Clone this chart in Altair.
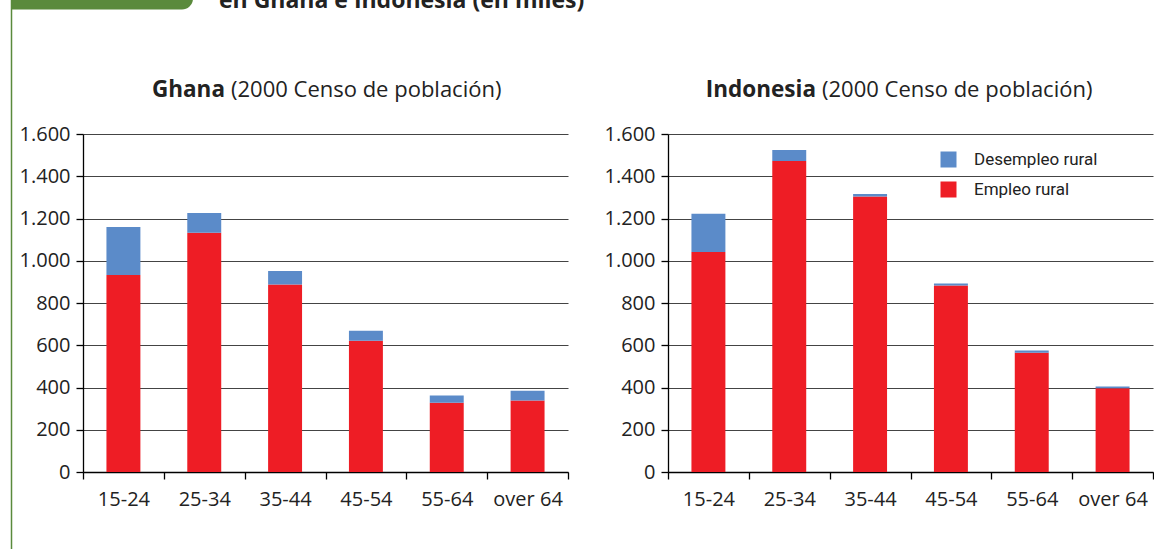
import altair as alt
import pandas as pd

# ---------------- data ----------------
categorias = ["15-24", "25-34", "35-44", "45-54", "55-64", "over 64"]
ghana_empleo = [933, 1132, 887, 621, 328, 338]
ghana_desempleo = [227, 94, 65, 48, 34, 47]
indonesia_empleo = [1042, 1472, 1304, 883, 564, 396]
indonesia_desempleo = [180, 52, 12, 9, 11, 9]
series = ["Desempleo rural", "Empleo rural"]
colores = ["#5B8BC9", "#EE1D25"]
y_valores = [0, 200, 400, 600, 800, 1000, 1200, 1400, 1600]

FONT = "Open Sans"
GREEN = "#5A8A3C"
TXT = "#222222"
W, H = 485, 338


def tabla(empleo, desempleo):
    filas = []
    for c, e, d in zip(categorias, empleo, desempleo):
        filas.append({"edad": c, "serie": "Empleo rural", "valor": e, "orden": 0})
        filas.append({"edad": c, "serie": "Desempleo rural", "valor": d, "orden": 1})
    return pd.DataFrame(filas)


one = alt.Data(values=[{}])


def panel(df, nombre, bold_right, norm_left, legend):
    bars = alt.Chart(df).mark_bar(width=alt.RelativeBandSize(0.42)).encode(
        x=alt.X(
            "edad:N",
            sort=categorias,
            scale=alt.Scale(paddingInner=0, paddingOuter=0),
            axis=alt.Axis(
                title=None, labelAngle=0, tickBand="extent", tickSize=7,
                labelPadding=10, grid=False, domainColor="#000", tickColor="#000",
            ),
        ),
        y=alt.Y(
            "valor:Q",
            stack="zero",
            scale=alt.Scale(domain=[0, 1600], nice=False),
            axis=alt.Axis(
                title=None, values=y_valores, grid=True, tickSize=7, labelPadding=6,
                labelExpr="replace(format(datum.value, ','), ',', '.')",
                domainColor="#000", tickColor="#000",
            ),
        ),
        color=alt.Color(
            "serie:N",
            scale=alt.Scale(domain=series, range=colores),
            legend=legend,
        ),
        order=alt.Order("orden:Q", sort="ascending"),
    )
    t_bold = alt.Chart(one).mark_text(
        text=nombre, font=FONT, fontSize=22.5, fontWeight="bold", align="right",
        baseline="alphabetic", color=TXT,
    ).encode(x=alt.value(bold_right), y=alt.value(-37))
    t_norm = alt.Chart(one).mark_text(
        text="(2000 Censo de población)", font=FONT, fontSize=22, align="left",
        baseline="alphabetic", color=TXT,
    ).encode(x=alt.value(norm_left), y=alt.value(-37))
    return bars, t_bold, t_norm


legend_right = alt.Legend(
    orient="none", legendX=272, legendY=17, title=None, symbolType="square",
    symbolSize=256, symbolStrokeWidth=0, labelFont="Roboto", labelFontSize=17,
    labelColor=TXT, labelOffset=17, rowPadding=12, padding=0,
)

gb, gt1, gt2 = panel(tabla(ghana_empleo, ghana_desempleo), "Ghana", 142, 148, None)
ib, it1, it2 = panel(tabla(indonesia_empleo, indonesia_desempleo), "Indonesia", 148, 154, legend_right)

# page decorations (positions relative to the left plot origin)
bound_top = alt.Chart(one).mark_rect(color="white").encode(
    x=alt.value(300), x2=alt.value(301), y=alt.value(-174), y2=alt.value(-173)
)
green_box = alt.Chart(one).mark_rect(color=GREEN, cornerRadiusBottomRight=11).encode(
    x=alt.value(-72), x2=alt.value(110), y=alt.value(-160), y2=alt.value(-124.5)
)
green_line = alt.Chart(one).mark_rule(color=GREEN, strokeWidth=1.5).encode(
    x=alt.value(-71.5), y=alt.value(-134), y2=alt.value(415)
)
header = alt.Chart(one).mark_text(
    text="en Ghana e Indonesia (en miles)", font=FONT, fontSize=23, fontWeight="bold",
    align="left", baseline="alphabetic", color=TXT,
).encode(x=alt.value(136), y=alt.value(-126.5))

left = alt.layer(gb, gt1, gt2, bound_top, green_box, green_line, header).properties(width=W, height=H)
right = alt.layer(ib, it1, it2).properties(width=W, height=H)

chart = (
    alt.hconcat(left, right, spacing=100, bounds="flush")
    .resolve_scale(color="independent")
    .properties(padding={"left": 10, "top": -40, "right": 0, "bottom": 0})
    .configure_view(stroke=None)
    .configure_axis(
        labelFont=FONT, labelFontSize=20, labelColor=TXT,
        domainWidth=1.3, tickWidth=1.3, gridColor="#444444", gridWidth=1.2,
    )
)

chart.save("out.html", embed_options={"renderer": "svg", "actions": False})
